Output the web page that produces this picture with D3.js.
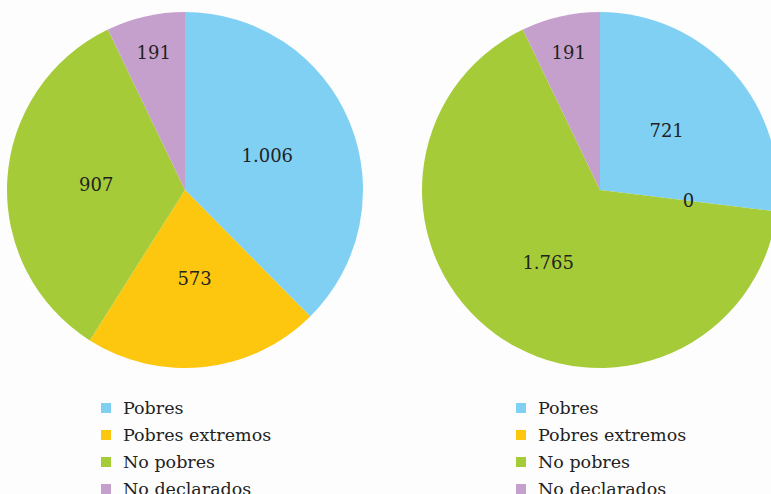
<!DOCTYPE html>
<html>
<head>
<meta charset="utf-8">
<script src="https://cdn.jsdelivr.net/npm/d3@7"></script>
<style>
html,body{margin:0;padding:0;background:#fdfdfd;overflow:hidden;}
svg{display:block;}
</style>
</head>
<body>
<svg id="chart" width="771" height="494"></svg>
<script>
const categories = ["Pobres", "Pobres extremos", "No pobres", "No declarados"];
const valuesLeft = [1006, 573, 907, 191];
const valuesRight = [721, 0, 1765, 191];
const valueLabelsLeft = ["1.006", "573", "907", "191"];
const valueLabelsRight = ["721", "0", "1.765", "191"];
const colors = ["#80d0f4", "#fdc70f", "#a5cb38", "#c6a0cd"];

const svg = d3.select("#chart");
const font = "'DejaVu Serif', Georgia, serif";

const color = d3.scaleOrdinal().domain(categories).range(colors);
const pie = d3.pie().sort(null).value(d => d.value);
const R = 178;

function drawPie(cx, cy, values, labels) {
  const data = categories.map((c, i) => ({cat: c, value: values[i], label: labels[i]}));
  const total = d3.sum(values);
  const arcs = pie(data);
  const g = svg.append("g").attr("transform", `translate(${cx},${cy})`);
  const arc = d3.arc().innerRadius(0).outerRadius(R);
  g.selectAll("path").data(arcs).enter().append("path")
    .attr("d", arc)
    .attr("fill", d => color(d.data.cat));
  g.selectAll("text").data(arcs).enter().append("text")
    .attr("transform", d => {
      const frac = d.data.value / total;
      const lr = (frac < 0.1 && frac > 0) ? R * 0.79 : R * 0.5;
      const a = (d.startAngle + d.endAngle) / 2;
      return `translate(${Math.sin(a) * lr},${-Math.cos(a) * lr})`;
    })
    .attr("text-anchor", "middle")
    .attr("dy", "0.35em")
    .attr("font-family", font)
    .attr("font-size", 18)
    .attr("fill", "#222")
    .text(d => d.data.label);
}

function drawLegend(x, y) {
  const g = svg.append("g").attr("transform", `translate(${x},${y})`);
  const rows = g.selectAll("g").data(categories).enter().append("g")
    .attr("transform", (d, i) => `translate(0,${i * 27})`);
  rows.append("rect").attr("x", 0).attr("y", 0).attr("width", 10).attr("height", 10)
    .attr("fill", d => color(d));
  rows.append("text").attr("x", 22).attr("y", 5).attr("dy", "0.35em")
    .attr("font-family", font).attr("font-size", 17.5).attr("fill", "#222")
    .text(d => d);
}

drawPie(185, 190, valuesLeft, valueLabelsLeft);
drawPie(600, 190, valuesRight, valueLabelsRight);
drawLegend(101, 403);
drawLegend(516, 403);
</script>
</body>
</html>
